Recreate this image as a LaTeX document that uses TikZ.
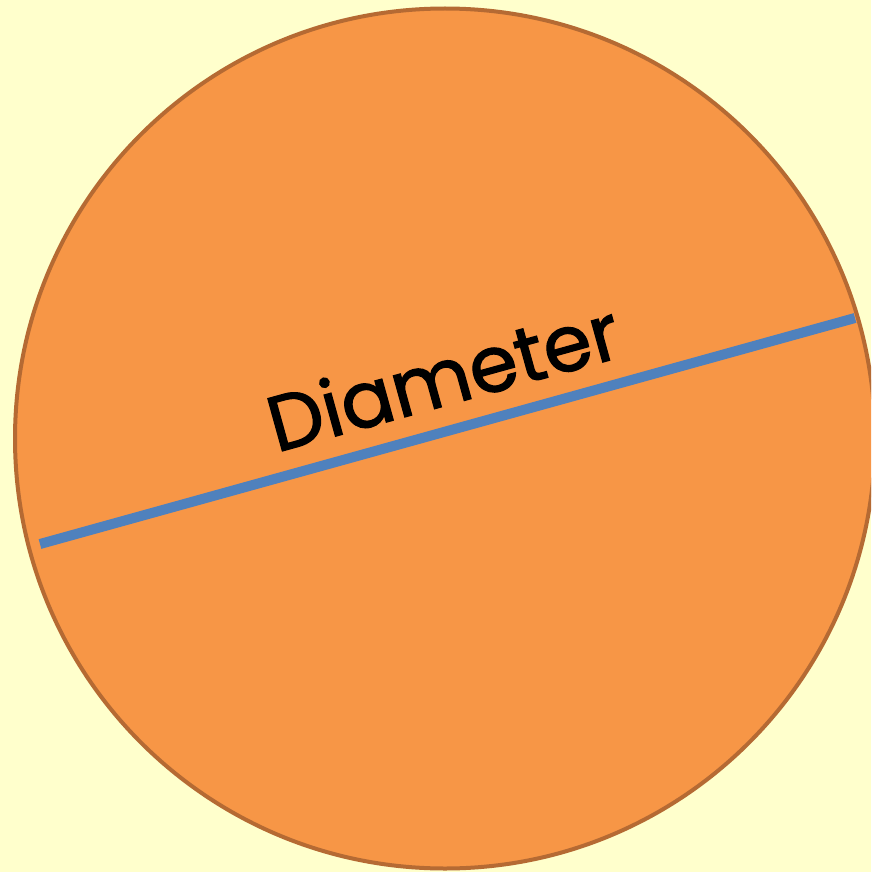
\documentclass[tikz,border=0pt]{standalone}
\usepackage{fontspec}
\newfontfamily\labelfont[FakeBold=1.6]{Poppins}
\definecolor{bgyellow}{HTML}{FFFFCC}
\definecolor{discfill}{HTML}{F79646}
\definecolor{discedge}{HTML}{B56A33}
\definecolor{diamblue}{HTML}{4F81BD}
\tikzset{
  disc/.style={fill=discfill, draw=discedge, line width=4pt},
  diamline/.style={draw=diamblue, line width=10pt, line cap=butt},
  labeltext/.style={font=\labelfont\fontsize{78}{80}\selectfont, text=black, inner sep=0pt}
}
\begin{document}
\begin{tikzpicture}[x=1pt,y=-1pt]
  \path[fill=bgyellow, use as bounding box] (0,0) rectangle (871,872);
  \begin{scope}
    \clip (0,0) rectangle (871,872);
    \node[disc, circle, minimum size=860pt, inner sep=0pt] (circ) at (445,438.5) {};
  \end{scope}
  \coordinate (dl) at (40,544);
  \coordinate (dr) at (855,318);
  \draw[diamline] (dl) -- (dr);
  \node[labeltext, rotate=15.5] (lab) at (443,376) {Diameter};
\end{tikzpicture}
\end{document}
